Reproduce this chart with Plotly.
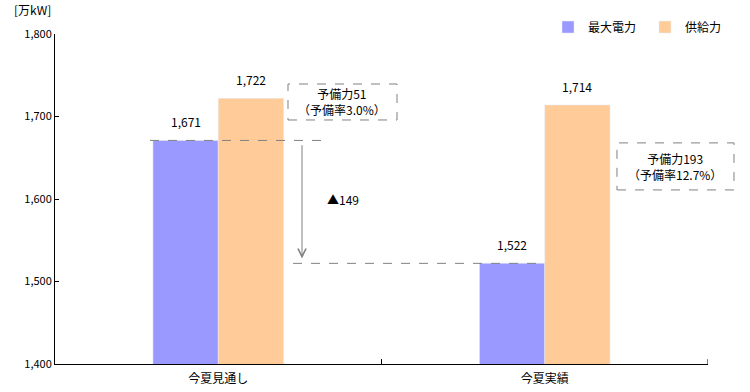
import plotly.graph_objects as go

categories = ["今夏見通し", "今夏実績"]
max_demand = [1671, 1522]
supply = [1722, 1714]
reserve = [51, 193]
reserve_rate = ["3.0%", "12.7%"]
decrease = 149
y_ticks = [1400, 1500, 1600, 1700, 1800]

FONT = "Noto Sans CJK JP"
PURPLE = "#9999FF"
ORANGE = "#FFCC99"

fig = go.Figure()
fig.add_trace(go.Bar(x=[0, 1], y=max_demand, name="最大電力", marker_color=PURPLE))
fig.add_trace(go.Bar(x=[0, 1], y=supply, name="供給力", marker_color=ORANGE))

ann = []
for i in range(2):
    ann.append(dict(x=i - 0.1, y=max_demand[i], text=f"{max_demand[i]:,}", showarrow=False,
                    xanchor="center", yanchor="bottom", yshift=8, xref="x", yref="y"))
    ann.append(dict(x=i + 0.1, y=supply[i], text=f"{supply[i]:,}", showarrow=False,
                    xanchor="center", yanchor="bottom", yshift=8, xref="x", yref="y"))

ann.append(dict(x=0.3805, y=1717.6, xref="x", yref="y", showarrow=False,
                xanchor="center", yanchor="middle",
                text=f"予備力{reserve[0]}<br>（予備率{reserve_rate[0]}）", align="center"))
ann.append(dict(x=0.950, y=1640, xref="paper", yref="y", showarrow=False,
                xanchor="center", yanchor="middle",
                text=f"予備力{reserve[1]}<br>（予備率{reserve_rate[1]}）", align="center"))

ann.append(dict(x=0.2565, y=max_demand[1] + 6, ax=0.2565, ay=max_demand[0] - 4,
                xref="x", yref="y", axref="x", ayref="y", text="", showarrow=True,
                arrowhead=5, arrowsize=1.6, arrowwidth=1, arrowcolor="#808080"))
ann.append(dict(x=0.382, y=(max_demand[0] + max_demand[1]) / 2 + 3, xref="x", yref="y",
                xanchor="center", showarrow=False, text=f"▲{decrease}"))

ann.append(dict(x=-0.066, y=1.073, xref="paper", yref="paper", xanchor="left", yanchor="middle",
                showarrow=False, text="[万kW]"))

shapes = [
    dict(type="line", xref="x", yref="y", x0=-0.209, x1=0.318, y0=max_demand[0], y1=max_demand[0],
         line=dict(color="#808080", width=1, dash="dash")),
    dict(type="line", xref="x", yref="y", x0=0.229, x1=0.998, y0=max_demand[1], y1=max_demand[1],
         line=dict(color="#808080", width=1, dash="dash")),
    dict(type="rect", xref="x", yref="y", x0=0.2136, x1=0.5475, y0=1695.8, y1=1739.4,
         line=dict(color="#808080", width=1, dash="dash"), fillcolor="rgba(0,0,0,0)"),
    dict(type="rect", xref="paper", yref="y", x0=0.8606, x1=1.0398, y0=1611, y1=1668,
         line=dict(color="#808080", width=1, dash="dash"), fillcolor="rgba(0,0,0,0)"),
]
for xv in [0.5, 1.5]:
    shapes.append(dict(type="line", xref="x", yref="paper", x0=xv, x1=xv, y0=0, y1=0.015,
                       line=dict(color="black", width=1)))

fig.update_layout(
    width=750, height=392,
    margin=dict(l=55, r=42, t=34, b=28, autoexpand=False),
    paper_bgcolor="white", plot_bgcolor="white",
    font=dict(family=FONT, size=12, color="black"),
    barmode="group", bargap=0.6, bargroupgap=0,
    showlegend=True,
    legend=dict(orientation="h", x=0.755, y=1.021, xanchor="left", yanchor="middle",
                font=dict(size=12), itemwidth=30, entrywidth=52, tracegroupgap=0,
                bgcolor="rgba(0,0,0,0)"),
    annotations=ann, shapes=shapes,
    xaxis=dict(range=[-0.5, 1.5], tickmode="array", tickvals=[0, 1], ticktext=categories,
               showline=True, linecolor="black", linewidth=1, showgrid=False, ticks="",
               zeroline=False, ticklabelstandoff=4, automargin=False),
    yaxis=dict(range=[1400, 1800], tickvals=y_ticks, tickformat=",d",
               showline=True, linecolor="black", linewidth=1, showgrid=False,
               ticks="inside", ticklen=4, tickcolor="black", zeroline=False,
               tickfont=dict(size=11), automargin=False),
)

fig.write_html("out.html")
